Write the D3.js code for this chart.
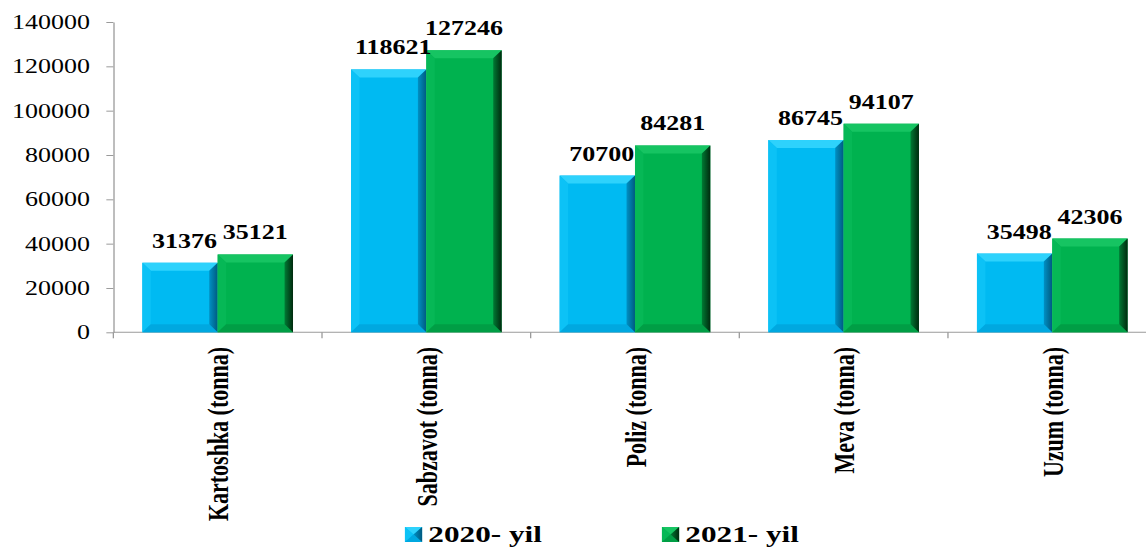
<!DOCTYPE html>
<html>
<head>
<meta charset="utf-8">
<script src="https://cdn.jsdelivr.net/npm/d3@7"></script>
<style>
    body { margin: 0; background: #fff; }
    text { font-family: "Liberation Serif", "Times New Roman", serif; fill: #000; }
</style>
</head>
<body>
<div id="container"></div>
<script>
const categories = ["Kartoshka (tonna)", "Sabzavot (tonna)", "Poliz (tonna)", "Meva (tonna)", "Uzum (tonna)"];
const seriesNames = ["2020- yil", "2021- yil"];
const values2020 = [31376, 118621, 70700, 86745, 35498];
const values2021 = [35121, 127246, 84281, 94107, 42306];
const yTicks = [0, 20000, 40000, 60000, 80000, 100000, 120000, 140000];

window.onload = (event) => {
    const width = 1146;
    const height = 547;
    // the reference is stretched horizontally, so draw narrow and scale x
    const stretch = 1.3;
    const innerWidth = width / stretch;

    const svg = d3.select("#container").append("svg")
        .attr("width", width)
        .attr("height", height);

    const defs = svg.append("defs");
    const g = svg.append("g").attr("transform", `scale(${stretch},1)`);

    const left = 87.2, top = 22, bottom = 332.3, band = 160.5;

    const x0 = d3.scaleBand()
        .domain(categories)
        .range([left, left + band * categories.length])
        .padding(0);

    const x1 = d3.scaleBand()
        .domain(seriesNames)
        .range([band * 0.139, band * 0.861])
        .padding(0);

    const y = d3.scaleLinear()
        .domain([0, 140000])
        .range([bottom, top]);

    const palette = {
        "2020- yil": { main: "#00baf2", top: "#2ed2fc", left: "#0cc2f6", right: "#0090c4", bottom: "#00a8e0", edge: "#005a80" },
        "2021- yil": { main: "#00b24f", top: "#16c462", left: "#06b856", right: "#007a34", bottom: "#009e45", edge: "#002a0e" }
    };

    seriesNames.forEach(function(s, i) {
        const grad = defs.append("linearGradient")
            .attr("id", "right" + i)
            .attr("x1", "0").attr("x2", "1").attr("y1", "0").attr("y2", "0");
        grad.append("stop").attr("offset", "0%").attr("stop-color", palette[s].right);
        grad.append("stop").attr("offset", "100%").attr("stop-color", palette[s].edge);
    });

    // axes
    const yAxis = g.append("g")
        .attr("transform", `translate(${left},0)`)
        .call(d3.axisLeft(y).tickValues(yTicks).tickSizeInner(5.4).tickSizeOuter(0).tickPadding(12.6).tickFormat(d3.format("d")));
    yAxis.attr("font-family", null);
    yAxis.select(".domain").attr("stroke", "#9a9a9a");
    yAxis.selectAll(".tick line").attr("stroke", "#9a9a9a");
    yAxis.selectAll(".tick text")
        .style("font-family", "Liberation Serif")
        .style("font-size", "20px")
        .attr("fill", "#111");

    g.append("line")
        .attr("x1", left).attr("x2", innerWidth + 2)
        .attr("y1", bottom).attr("y2", bottom)
        .attr("stroke", "#9a9a9a");

    const boundaries = categories.map(c => x0(c)).concat([x0(categories[categories.length - 1]) + band]);
    g.append("g").selectAll("line").data(boundaries).enter().append("line")
        .attr("x1", d => d).attr("x2", d => d)
        .attr("y1", bottom).attr("y2", bottom + 6)
        .attr("stroke", "#9a9a9a");

    // bars
    const rows = [];
    categories.forEach(function(c, i) {
        rows.push({ cat: c, series: seriesNames[0], idx: 0, value: values2020[i] });
        rows.push({ cat: c, series: seriesNames[1], idx: 1, value: values2021[i] });
    });

    const bx = 6.5, by = 8;

    function drawBevel(sel, xa, xb, ya, yb, col, idx, bxs, bys) {
        sel.append("rect")
            .attr("x", xa).attr("y", ya)
            .attr("width", xb - xa).attr("height", yb - ya)
            .attr("fill", col.main);
        sel.append("polygon")
            .attr("points", [[xa, ya], [xb, ya], [xb - bxs, ya + bys], [xa + bxs, ya + bys]].join(" "))
            .attr("fill", col.top);
        sel.append("polygon")
            .attr("points", [[xa, ya], [xa + bxs, ya + bys], [xa + bxs, yb - bys], [xa, yb]].join(" "))
            .attr("fill", col.left);
        sel.append("polygon")
            .attr("points", [[xa, yb], [xa + bxs, yb - bys], [xb - bxs, yb - bys], [xb, yb]].join(" "))
            .attr("fill", col.bottom);
        sel.append("polygon")
            .attr("points", [[xb, ya], [xb, yb], [xb - bxs, yb - bys], [xb - bxs, ya + bys]].join(" "))
            .attr("fill", `url(#right${idx})`);
    }

    const bars = g.append("g").selectAll("g").data(rows).enter().append("g");
    bars.each(function(d) {
        const xa = x0(d.cat) + x1(d.series);
        const xb = xa + x1.bandwidth();
        drawBevel(d3.select(this), xa, xb, y(d.value), y(0), palette[d.series], d.idx, bx, by);
    });

    // value labels
    g.append("g").selectAll("text").data(rows).enter().append("text")
        .attr("x", d => x0(d.cat) + x1(d.series) + x1.bandwidth() / 2 + (d.idx === 0 ? 3.5 : 0))
        .attr("y", d => y(d.value) - 15)
        .attr("text-anchor", "middle")
        .style("font-size", "20px")
        .style("font-weight", "bold")
        .text(d => d.value);

    // category labels
    g.append("g").selectAll("text").data(categories).enter().append("text")
        .attr("transform", d => `translate(${x0(d) + band / 2},347) rotate(-90)`)
        .attr("dy", "0.37em")
        .attr("text-anchor", "end")
        .style("font-size", "22px")
        .style("font-weight", "bold")
        .text(d => d);

    // legend
    const legendX = [311.5, 509.2];
    const legend = g.append("g").selectAll("g").data(seriesNames).enter().append("g")
        .attr("transform", (d, i) => `translate(${legendX[i]},0)`);
    legend.each(function(d, i) {
        drawBevel(d3.select(this), 0, 13.2, 527, 542, palette[d], i, 6.6, 7.5);
    });
    legend.append("text")
        .attr("x", 18)
        .attr("y", 542)
        .style("font-size", "24px")
        .style("font-weight", "bold")
        .text(d => d);
};
</script>
</body>
</html>
